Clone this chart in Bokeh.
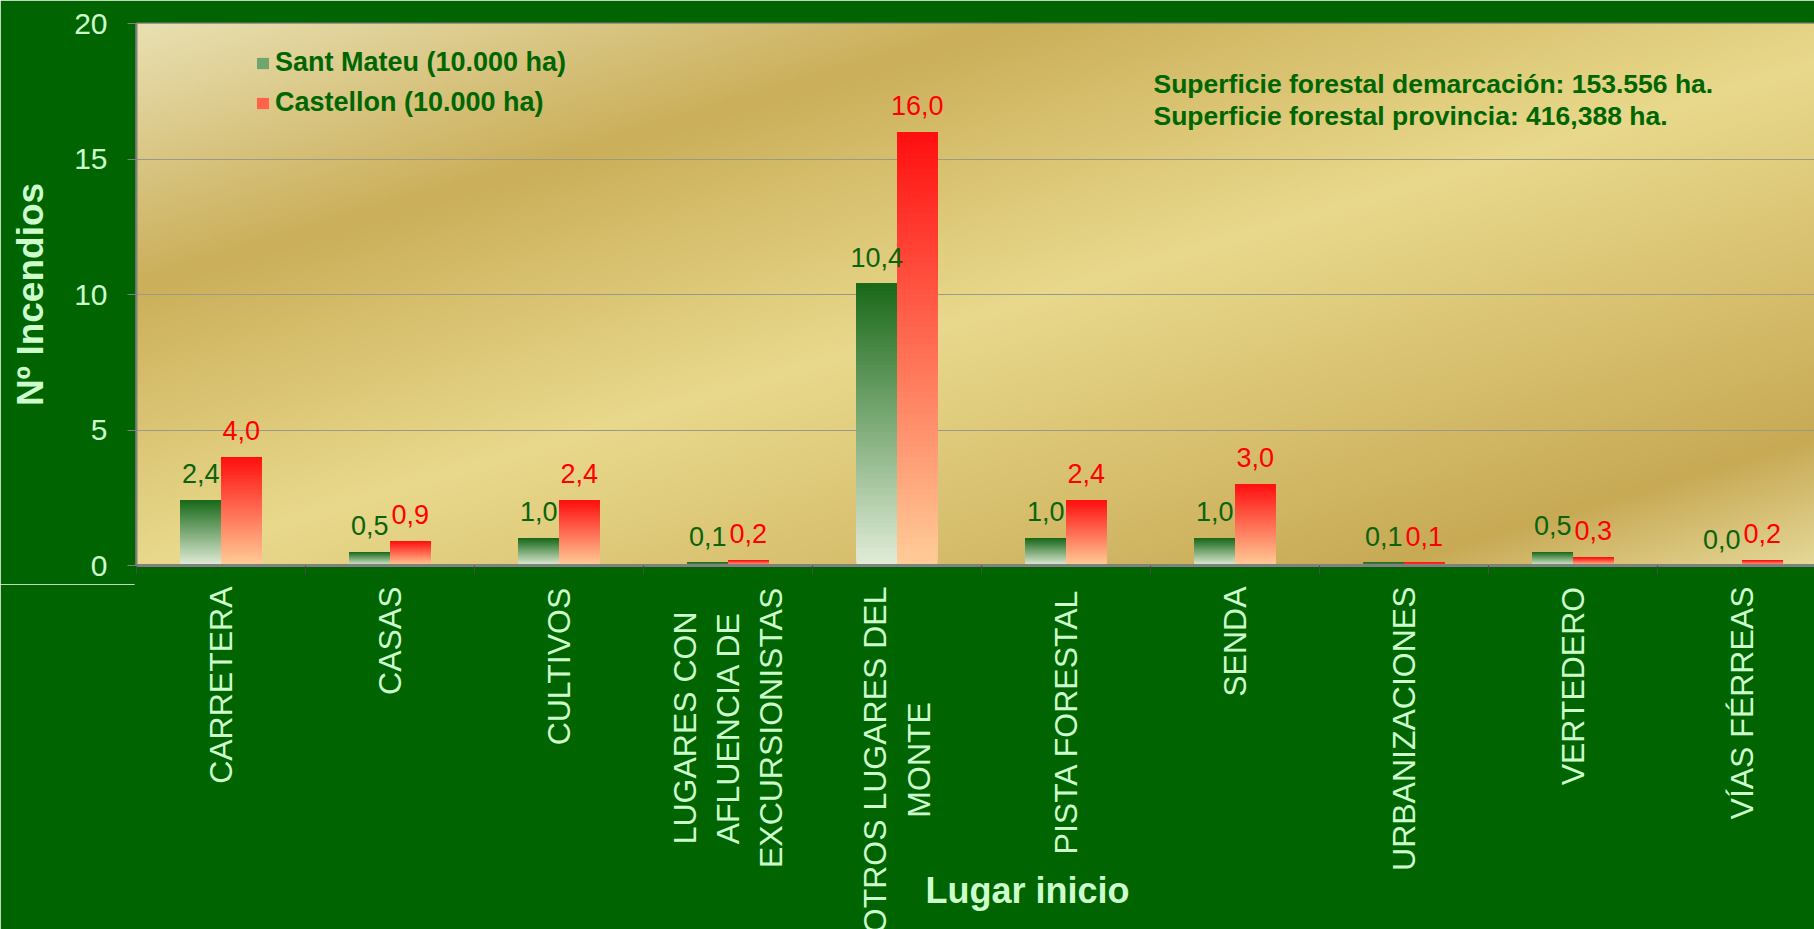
import numpy as np
from math import pi
from bokeh.plotting import figure
from bokeh.layouts import column
from bokeh.models import ColumnDataSource, Range1d, FixedTicker, Label, Legend, LegendItem
from bokeh.embed import file_html
from bokeh.resources import INLINE
from bokeh.core.properties import value

# ---------------- data ----------------
categories = ["CARRETERA", "CASAS", "CULTIVOS",
              "LUGARES CON\nAFLUENCIA DE\nEXCURSIONISTAS",
              "OTROS LUGARES DEL\nMONTE", "PISTA FORESTAL", "SENDA",
              "URBANIZACIONES", "VERTEDERO", "VÍAS FÉRREAS"]
sant_mateu = [2.4, 0.5, 1.0, 0.1, 10.4, 1.0, 1.0, 0.1, 0.5, 0.0]
castellon = [4.0, 0.9, 2.4, 0.2, 16.0, 2.4, 3.0, 0.1, 0.3, 0.2]
series_names = ["Sant Mateu (10.000 ha)", "Castellon (10.000 ha)"]
y_ticks = [0, 5, 10, 15, 20]
notes = ["Superficie forestal demarcación: 153.556 ha.",
         "Superficie forestal provincia: 416,388 ha."]
x_title = "Lugar inicio"
y_title = "Nº Incendios"

# ---------------- layout ----------------
FONT = "Liberation Sans"
BG = "#006400"
LIGHT = "#ccffcc"
W, H = 1814, 929
FL, FT, FB = 136, 23, 565        # frame left / top / bottom (px)
H1 = 584                          # height of the chart part
H2 = H - H1                       # height of the category-label strip
FW = W - FL
FH = FB - FT
CAT_PX = 169.0
x_end = FW / CAT_PX
PXY = FH / 20.0
BAR_W = 0.24
NSEG = 80
CAT_FS = 32

# approximate advance widths (em) of the category-label characters
CHAR_W = {" ": 0.278, "A": 0.667, "B": 0.667, "C": 0.722, "D": 0.722, "E": 0.667,
          "F": 0.611, "G": 0.778, "H": 0.722, "I": 0.278, "Í": 0.278, "L": 0.556,
          "M": 0.833, "N": 0.722, "O": 0.778, "P": 0.667, "R": 0.722, "S": 0.667,
          "T": 0.611, "U": 0.722, "V": 0.667, "X": 0.667, "Z": 0.611, "É": 0.667}

def text_len(s, size):
    return sum(CHAR_W.get(ch, 0.667) for ch in s) * size

xr = Range1d(0, x_end)
p = figure(width=W, height=H1, output_backend="svg", toolbar_location=None,
           x_range=xr, y_range=Range1d(0, 20),
           min_border_left=FL, min_border_right=0, min_border_top=FT,
           min_border_bottom=H1 - FB)
p.background_fill_color = BG
p.border_fill_color = BG
p.outline_line_color = "#808080"
p.outline_line_width = 2

# background gold gradient of the plot area
ny, nx = 200, 600
gx = np.linspace(0, 1, nx)
gy = np.linspace(1, 0, ny)           # row 0 is the bottom
GX, GY = np.meshgrid(gx, gy)
tt = (0.3 * GX * FW + GY * FH) / (0.3 * FW + FH)
stops = [0.0, 0.25, 0.52, 0.88, 1.0]
cols = [(233, 224, 178), (203, 175, 90), (233, 217, 140), (200, 170, 85), (229, 216, 152)]
img = np.zeros((ny, nx), dtype=np.uint32)
view = img.view(dtype=np.uint8).reshape((ny, nx, 4))
for c in range(3):
    view[:, :, c] = np.interp(tt, stops, [k[c] for k in cols]).astype(np.uint8)
view[:, :, 3] = 255
p.image_rgba(image=[img], x=0, y=0, dw=x_end, dh=20, level="image")

# gradient bars built from the data arrays (each slice reaches the bar top,
# later slices paint over earlier ones, so no seams appear)
def gradient_source(vals, offset, c_top, c_bot):
    L, R, B, T, C = [], [], [], [], []
    for i, v in enumerate(vals):
        cx = i + 0.5
        for k in range(NSEG):
            f = (k + 0.5) / NSEG
            col = tuple(int(round(c_bot[j] + (c_top[j] - c_bot[j]) * f)) for j in range(3))
            L.append(cx + offset)
            R.append(cx + offset + BAR_W)
            B.append(v * k / NSEG)
            T.append(v)
            C.append("#%02x%02x%02x" % col)
    return ColumnDataSource(dict(left=L, right=R, bottom=B, top=T, color=C))

src_g = gradient_source(sant_mateu, -BAR_W, (25, 105, 25), (226, 237, 216))
src_r = gradient_source(castellon, 0.0, (255, 15, 15), (255, 205, 152))
rg = p.quad(left="left", right="right", bottom="bottom", top="top",
            fill_color="color", line_color=None, source=src_g)
rr = p.quad(left="left", right="right", bottom="bottom", top="top",
            fill_color="color", line_color=None, source=src_r)

# value labels
def fmt(v):
    return f"{v:.1f}".replace(".", ",")

lab_g = ColumnDataSource(dict(x=[i + 0.5 - BAR_W / 2 for i in range(len(categories))],
                              y=sant_mateu, t=[fmt(v) for v in sant_mateu]))
lab_r = ColumnDataSource(dict(x=[i + 0.5 + BAR_W / 2 for i in range(len(categories))],
                              y=castellon, t=[fmt(v) for v in castellon]))
for s, colr in ((lab_g, "#0a640a"), (lab_r, "#ff0000")):
    p.text(x="x", y="y", text="t", source=s, text_align="center", text_baseline="bottom",
           y_offset=-17, text_font=value(FONT), text_font_size="27px", text_color=colr)

# axes
p.xgrid.visible = False
p.ygrid.ticker = FixedTicker(ticks=y_ticks)
p.ygrid.grid_line_color = "#9a9a8a"
p.ygrid.grid_line_width = 1

ya = p.yaxis[0]
ya.ticker = FixedTicker(ticks=y_ticks)
ya.axis_line_color = "#808080"
ya.axis_line_width = 2
ya.major_tick_line_color = "#808080"
ya.major_tick_out = 9
ya.major_tick_in = 0
ya.minor_tick_line_color = None
ya.major_label_standoff = 20
ya.major_label_text_font = FONT
ya.major_label_text_font_size = "30px"
ya.major_label_text_color = LIGHT
ya.axis_label = y_title
ya.axis_label_text_font = FONT
ya.axis_label_text_font_size = "37px"
ya.axis_label_text_font_style = "bold"
ya.axis_label_text_color = LIGHT
ya.axis_label_standoff = 20

xa = p.xaxis[0]
xa.ticker = FixedTicker(ticks=[], minor_ticks=list(range(len(categories) + 1)))
xa.axis_line_color = "#808080"
xa.axis_line_width = 3
xa.minor_tick_line_color = "#4a4a4a"
xa.minor_tick_out = 9
xa.minor_tick_in = 0
xa.major_tick_line_color = None
xa.major_label_text_font_size = "0px"

# notes
for j, n in enumerate(notes):
    p.add_layout(Label(x=(1153 - FL) / CAT_PX, y=20 - (60 + 32 * j) / PXY, text=n,
                       text_align="left", text_baseline="middle", text_font=FONT,
                       text_font_size="26.5px", text_font_style="bold", text_color="#006600"))

# legend
legend = Legend(items=[LegendItem(label=series_names[0], renderers=[rg], index=int(NSEG * 0.55)),
                       LegendItem(label=series_names[1], renderers=[rr], index=int(NSEG * 0.55))],
                location=(119, 447), padding=0, margin=0, spacing=9,
                glyph_width=15, glyph_height=14, label_standoff=5, label_height=30,
                label_text_font=FONT, label_text_font_size="27px", label_text_font_style="bold",
                label_text_color="#006600", background_fill_alpha=0, border_line_color=None)
p.add_layout(legend, "center")

# ---------------- category label strip ----------------
p2 = figure(width=W, height=H2, output_backend="svg", toolbar_location=None,
            x_range=xr, y_range=Range1d(-H2, 0),
            x_axis_location=None, y_axis_location=None,
            min_border_left=FL, min_border_right=0, min_border_top=0, min_border_bottom=0)
p2.background_fill_color = BG
p2.border_fill_color = BG
p2.outline_line_color = BG
p2.outline_line_width = 4
p2.grid.visible = False

cat_y = [-2 - max(text_len(line, CAT_FS) for line in c.split("\n")) / 2 for c in categories]
cat_src = ColumnDataSource(dict(x=[i + 0.5 for i in range(len(categories))],
                                y=cat_y, t=categories))
p2.text(x="x", y="y", text="t", source=cat_src, angle=pi / 2,
        text_align="center", text_baseline="middle", text_line_height=1.2,
        text_font=value(FONT), text_font_size=f"{CAT_FS}px", text_color=LIGHT)

p2.add_layout(Label(x=(1027 - FL) / CAT_PX, y=-(890 - H1), text=x_title,
                    text_align="center", text_baseline="middle", text_font=FONT,
                    text_font_size="36px", text_font_style="bold", text_color=LIGHT))

layout = column(p, p2, spacing=0)
open("out.html", "w").write(file_html(layout, INLINE))
